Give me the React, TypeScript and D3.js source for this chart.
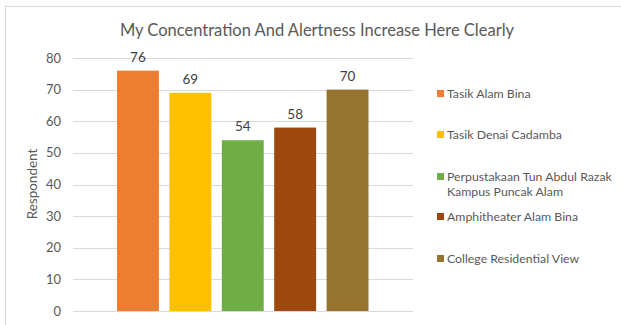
import React, { useEffect, useRef } from 'react';
import * as d3 from 'd3';

const seriesNames = [
  'Tasik Alam Bina',
  'Tasik Denai Cadamba',
  'Perpustakaan Tun Abdul Razak|Kampus Puncak Alam',
  'Amphitheater Alam Bina',
  'College Residential View',
];
const seriesValues = [76, 69, 54, 58, 70];
const seriesColors = ['#ED7D31', '#FFC000', '#70AD47', '#9E480E', '#94742F'];
const yTicks = [0, 10, 20, 30, 40, 50, 60, 70, 80];

const W = 621;
const H = 325;
const FONT = 'Lato, "Noto Sans", sans-serif';

const App = () => {
  const svgRef = useRef<SVGSVGElement>(null);

  useEffect(() => {
    const svg = d3.select(svgRef.current);
    svg.selectAll('*').remove();

    // outer chart border
    svg.append('rect')
      .attr('x', 5.5).attr('y', 6.5)
      .attr('width', W).attr('height', H)
      .attr('fill', '#fff').attr('stroke', '#d9d9d9');

    svg.append('text')
      .attr('x', 317).attr('y', 36)
      .attr('text-anchor', 'middle')
      .attr('font-family', FONT).attr('font-size', 16.5)
      .attr('fill', '#595959')
      .text('My Concentration And Alertness Increase Here Clearly');

    const y = d3.scaleLinear().domain([0, 80]).range([311, 58]);
    const x = d3.scaleBand<string>()
      .domain(seriesNames)
      .range([117, 368.5])
      .paddingInner(0.2);

    // gridlines
    svg.append('g').selectAll('line')
      .data(yTicks)
      .enter().append('line')
      .attr('x1', 73).attr('x2', 413)
      .attr('y1', d => Math.round(y(d)) + 0.5)
      .attr('y2', d => Math.round(y(d)) + 0.5)
      .attr('stroke', '#d9d9d9').attr('stroke-width', 1);

    // tick labels
    svg.append('g').selectAll('text')
      .data(yTicks)
      .enter().append('text')
      .attr('x', 61).attr('y', d => y(d))
      .attr('dy', '0.35em')
      .attr('text-anchor', 'end')
      .attr('font-family', FONT).attr('font-size', 13)
      .attr('fill', '#595959')
      .text(d => d);

    svg.append('text')
      .attr('transform', `translate(37,184) rotate(-90)`)
      .attr('text-anchor', 'middle')
      .attr('font-family', FONT).attr('font-size', 13.5)
      .attr('fill', '#595959')
      .text('Respondent');

    // bars
    svg.append('g').selectAll('rect')
      .data(seriesValues)
      .enter().append('rect')
      .attr('x', (d, i) => x(seriesNames[i]))
      .attr('y', d => y(d))
      .attr('width', x.bandwidth())
      .attr('height', d => y(0) - y(d))
      .attr('fill', (d, i) => seriesColors[i]);

    // value labels
    svg.append('g').selectAll('text')
      .data(seriesValues)
      .enter().append('text')
      .attr('x', (d, i) => x(seriesNames[i]) + x.bandwidth() / 2)
      .attr('y', d => y(d) - 9)
      .attr('text-anchor', 'middle')
      .attr('font-family', FONT).attr('font-size', 13.5)
      .attr('fill', '#404040')
      .text(d => d);

    // legend
    const legendY = [94, 135, 177, 217, 259];
    const leg = svg.append('g').selectAll('g')
      .data(seriesNames)
      .enter().append('g')
      .attr('transform', (d, i) => `translate(437,${legendY[i]})`);
    leg.append('rect')
      .attr('x', 0).attr('y', -4)
      .attr('width', 7).attr('height', 7)
      .attr('fill', (d, i) => seriesColors[i]);
    leg.append('text')
      .attr('font-family', FONT).attr('font-size', 12.3)
      .attr('fill', '#595959')
      .each(function (d) {
        const t = d3.select(this);
        d.split('|').forEach((line, k) => {
          t.append('tspan')
            .attr('x', 10)
            .attr('y', k * 15)
            .attr('dy', '0.35em')
            .text(line);
        });
      });
  }, []);

  return (
    <svg ref={svgRef} width={W} height={H}
      style={{ position: 'absolute', left: 0, top: 0, background: '#fff' }} />
  );
};

export default App;
